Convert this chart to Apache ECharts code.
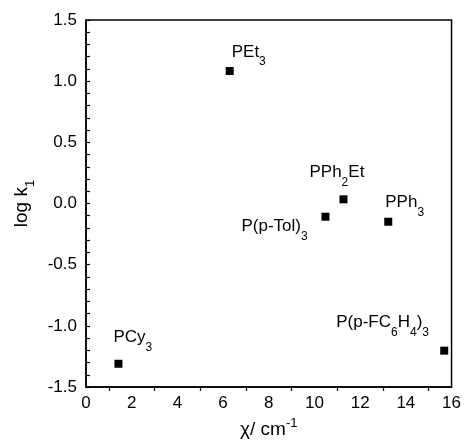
<!DOCTYPE html>
<html>
<head>
<meta charset="utf-8">
<script src="https://cdn.jsdelivr.net/npm/echarts@6/dist/echarts.min.js"></script>
<style>html,body{margin:0;padding:0;background:#fff}#c{width:464px;height:445px}</style>
</head>
<body>
<div id="c"></div>
<script>
// Data
var ligandNames = ['PCy3', 'PEt3', 'P(p-Tol)3', 'PPh2Et', 'PPh3', 'P(p-FC6H4)3'];
var ligandLabels = ['{m|PCy}{s|3}', '{m|PEt}{s|3}', '{m|P(p-Tol)}{s|3}', '{m|PPh}{s|2}{m|Et}', '{m|PPh}{s|3}', '{m|P(p-FC}{s|6}{m|H}{s|4}{m|)}{s|3}'];
var chiValues = [1.42, 6.29, 10.48, 11.27, 13.23, 15.68];
var logK1Values = [-1.31, 1.083, -0.108, 0.034, -0.149, -1.203];
var xTicks = [0, 2, 4, 6, 8, 10, 12, 14, 16];
var yTicks = [-1.5, -1.0, -0.5, 0.0, 0.5, 1.0, 1.5];

// label placement (style config)
var labelOffsets = [[-5, -26], [2, -19], [-84, 10], [-34, -27], [-3, -19], [-108, -28]];

var FONT = '"Liberation Sans", Arial, sans-serif';
var rich = {
  m: { fontSize: 17, fontFamily: FONT, color: '#000', lineHeight: 32, verticalAlign: 'middle' },
  s: { fontSize: 12, fontFamily: FONT, color: '#000', lineHeight: 10, verticalAlign: 'bottom' }
};

var data = chiValues.map(function (x, i) {
  return {
    name: ligandNames[i],
    value: [x, logK1Values[i]],
    label: {
      show: true,
      position: 'inside',
      align: 'left',
      verticalAlign: 'middle',
      offset: labelOffsets[i],
      color: '#000',
      opacity: 1,
      textBorderWidth: 0,
      formatter: ligandLabels[i],
      rich: rich
    }
  };
});

var chart = echarts.init(document.getElementById('c'), null, { renderer: 'canvas' });
chart.setOption({
  animation: false,
  backgroundColor: '#fff',
  grid: { left: 86, right: 9, top: 20, bottom: 58, show: true, borderColor: '#000', borderWidth: 1.5, backgroundColor: 'transparent' },
  xAxis: {
    type: 'value',
    min: xTicks[0], max: xTicks[xTicks.length - 1], interval: 2,
    axisLine: { show: true, onZero: false, lineStyle: { color: '#000', width: 1.5 } },
    axisTick: { show: false },
    minorTick: { show: true, splitNumber: 2, length: 4, lineStyle: { color: '#000', width: 1.2 } },
    splitLine: { show: false },
    axisLabel: { color: '#000', fontSize: 17, fontFamily: FONT, margin: 8 },
    name: '{m|χ/ cm}{p|-1}',
    nameLocation: 'middle',
    nameGap: 26,
    nameTextStyle: {
      rich: {
        m: { fontSize: 19, fontFamily: FONT, color: '#000', lineHeight: 26, verticalAlign: 'middle' },
        p: { fontSize: 13, fontFamily: FONT, color: '#000', lineHeight: 10, verticalAlign: 'top' }
      }
    }
  },
  yAxis: {
    type: 'value',
    min: yTicks[0], max: yTicks[yTicks.length - 1], interval: 0.5,
    axisLine: { show: true, onZero: false, lineStyle: { color: '#000', width: 1.5 } },
    axisTick: { show: true, inside: true, length: 4, lineStyle: { color: '#000', width: 1.2 } },
    minorTick: { show: true, splitNumber: 5, length: 4, lineStyle: { color: '#000', width: 1.2 } },
    splitLine: { show: false },
    axisLabel: { color: '#000', fontSize: 17, fontFamily: FONT, margin: 9, formatter: function (v) { return v.toFixed(1); } },
    name: '{m|log k}{s|1}',
    nameLocation: 'middle',
    nameGap: 49,
    nameRotate: 90,
    nameTextStyle: {
      rich: {
        m: { fontSize: 19, fontFamily: FONT, color: '#000', lineHeight: 30, verticalAlign: 'middle' },
        s: { fontSize: 13, fontFamily: FONT, color: '#000', lineHeight: 10, verticalAlign: 'bottom' }
      }
    }
  },
  series: [{
    type: 'scatter',
    symbol: 'rect',
    symbolSize: 8,
    itemStyle: { color: '#000', opacity: 1 },
    data: data
  }]
});
</script>
</body>
</html>
